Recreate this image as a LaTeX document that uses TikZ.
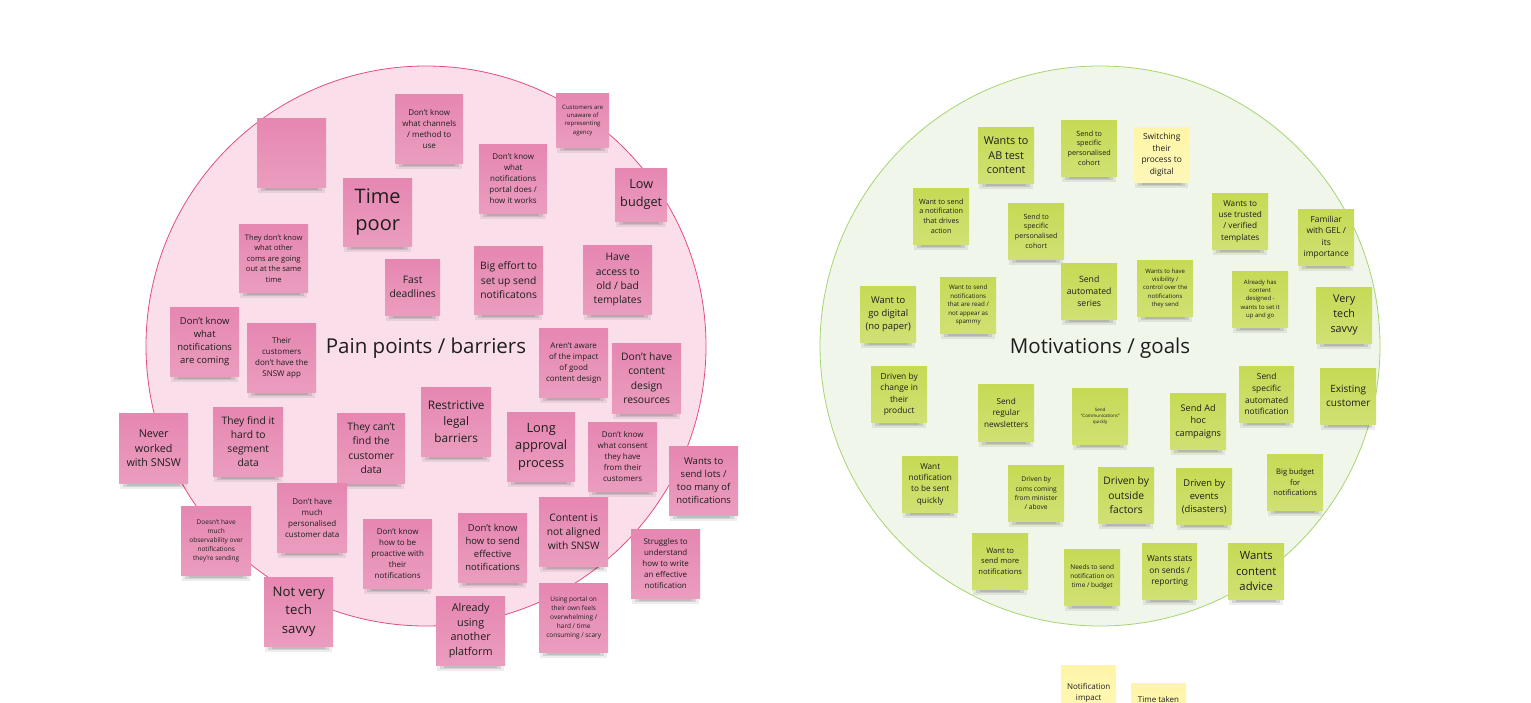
\documentclass[tikz,border=0pt]{standalone}
\usepackage{fontspec}
\setmainfont{Open Sans}
\definecolor{pinknote}{HTML}{E687B1}
\definecolor{greennote}{HTML}{C6DA55}
\definecolor{yellownote}{HTML}{FFF5A8}
\definecolor{pinkfill}{HTML}{FADFEB}
\definecolor{pinkline}{HTML}{E34D84}
\definecolor{greenfill}{HTML}{F0F6E9}
\definecolor{greenline}{HTML}{A6D571}
\definecolor{textc}{HTML}{1E1E1E}
\tikzset{
  stickbox/.style={anchor=north west, inner sep=1pt, align=center, text=textc},
  clusterc/.style={line width=0.8pt},
  titletext/.style={text=textc, font=\fontsize{20.5}{27}\selectfont}
}
\newcommand\stick[8]{%
  \fill[black,opacity=0.07] ({#2+1},{#3+#5-2}) rectangle ({#2+#4-1},{#3+#5+6});
  \fill[black,opacity=0.10] ({#2+4},{#3+#5}) rectangle ({#2+#4-4},{#3+#5+4});
  \fill[black,opacity=0.10] ({#2+8},{#3+#5}) rectangle ({#2+#4-8},{#3+#5+2.5});
  \pgfmathsetmacro\bls{1.38*#7}%
  \node[stickbox, top color=#6, bottom color=#6!82!white, minimum width=#4pt, minimum height=#5pt,
        font=\fontsize{#7}{\bls}\selectfont] (#1) at (#2,#3) {#8};
}
\begin{document}
\begin{tikzpicture}[x=1pt,y=-1pt]
\path[use as bounding box] (0,0) rectangle (1531,702);
\clip (0,0) rectangle (1531,702);
\fill[white] (0,0) rectangle (1531,702);

% clusters
\draw[clusterc, fill=pinkfill, draw=pinkline] (426,346) circle[radius=280pt];
\draw[clusterc, fill=greenfill, draw=greenline] (1100,346) circle[radius=280pt];
\node[titletext] (pain) at (426,348) {Pain points / barriers};
\node[titletext] (motiv) at (1100,348) {Motivations / goals};

% pain points
\stick{p1}{257}{118}{69}{69}{pinknote}{8}{}
\stick{p2}{395}{94}{68}{69}{pinknote}{8}{Don't know\\what channels\\/ method to\\use}
\stick{p3}{556}{93}{53}{54}{pinknote}{6}{Customers are\\unaware of\\representing\\agency}
\stick{p4}{343}{178}{69}{68}{pinknote}{20}{Time\\poor}
\stick{p5}{479}{144}{68}{69}{pinknote}{8}{Don't know\\what\\notifications\\portal does /\\how it works}
\stick{p6}{615}{168}{52}{53}{pinknote}{12.7}{Low\\budget}
\stick{p7}{239}{224}{69}{68}{pinknote}{7.6}{They don't know\\what other\\coms are going\\out at the same\\time}
\stick{p8}{385}{259}{55}{56}{pinknote}{10.3}{Fast\\deadlines}
\stick{p9}{474}{246}{69}{68}{pinknote}{10.3}{Big effort to\\set up send\\notificatons}
\stick{p10}{583}{245}{69}{69}{pinknote}{10.3}{Have\\access to\\old / bad\\templates}
\stick{p11}{170}{307}{69}{69}{pinknote}{9.5}{Don't know\\what\\notifications\\are coming}
\stick{p12}{247}{323}{69}{69}{pinknote}{8}{Their\\customers\\don't have the\\SNSW app}
\stick{p13}{539}{328}{69}{69}{pinknote}{8}{Aren't aware\\of the impact\\of good\\content design}
\stick{p14}{612}{343}{69}{70}{pinknote}{10.3}{Don't have\\content\\design\\resources}
\stick{p15}{119}{413}{69}{70}{pinknote}{10.8}{Never\\worked\\with SNSW}
\stick{p16}{213}{407}{70}{69}{pinknote}{10.3}{They find it\\hard to\\segment\\data}
\stick{p17}{337}{413}{68}{70}{pinknote}{10.3}{They can't\\find the\\customer\\data}
\stick{p18}{421}{387}{70}{69}{pinknote}{11.8}{Restrictive\\legal\\barriers}
\stick{p19}{507}{412}{68}{69}{pinknote}{12.8}{Long\\approval\\process}
\stick{p20}{588}{422}{69}{69}{pinknote}{8}{Don't know\\what consent\\they have\\from their\\customers}
\stick{p21}{669}{446}{69}{69}{pinknote}{9.5}{Wants to\\send lots /\\too many of\\notifications}
\stick{p22}{277}{483}{70}{69}{pinknote}{8}{Don't have\\much\\personalised\\customer data}
\stick{p23}{181}{506}{70}{69}{pinknote}{6.5}{Doesn't have\\much\\observability over\\notifications\\they're sending}
\stick{p24}{363}{519}{69}{69}{pinknote}{8}{Don't know\\how to be\\proactive with\\their\\notifications}
\stick{p25}{458}{513}{69}{69}{pinknote}{9.5}{Don't know\\how to send\\effective\\notifications}
\stick{p26}{539}{497}{69}{69}{pinknote}{10.3}{Content is\\not aligned\\with SNSW}
\stick{p27}{631}{529}{69}{69}{pinknote}{8}{Struggles to\\understand\\how to write\\an effective\\notification}
\stick{p28}{264}{577}{69}{69}{pinknote}{13.2}{Not very\\tech\\savvy}
\stick{p29}{436}{596}{69}{69}{pinknote}{10.8}{Already\\using\\another\\platform}
\stick{p30}{539}{583}{69}{69}{pinknote}{6.5}{Using portal on\\their own feels\\overwhelming /\\hard / time\\consuming / scary}

% motivations
\stick{m1}{978}{127}{56}{56}{greennote}{10.8}{Wants to\\AB test\\content}
\stick{m2}{1061}{120}{56}{56}{greennote}{7.2}{Send to\\specific\\personalised\\cohort}
\stick{m3}{1134}{127}{55}{55}{yellownote}{8.4}{Switching\\their\\process to\\digital}
\stick{m4}{913}{188}{56}{56}{greennote}{7.2}{Want to send\\a notification\\that drives\\action}
\stick{m5}{1008}{203}{56}{56}{greennote}{7.1}{Send to\\specific\\personalised\\cohort}
\stick{m6}{1212}{193}{56}{56}{greennote}{8.2}{Wants to\\use trusted\\/ verified\\templates}
\stick{m7}{1298}{209}{56}{56}{greennote}{8.4}{Familiar\\with GEL /\\its\\importance}
\stick{m8}{1061}{263}{56}{56}{greennote}{8.7}{Send\\automated\\series}
\stick{m9}{1137}{260}{56}{56}{greennote}{6}{Wants to have\\visibility /\\control over the\\notifications\\they send}
\stick{m10}{1232}{271}{56}{56}{greennote}{6}{Already has\\content\\designed -\\wants to set it\\up and go}
\stick{m11}{860}{286}{56}{56}{greennote}{9.4}{Want to\\go digital\\(no paper)}
\stick{m12}{940}{277}{56}{56}{greennote}{6.2}{Want to send\\notifications\\that are read /\\not appear as\\spammy}
\stick{m13}{1316}{287}{56}{56}{greennote}{10.8}{Very\\tech\\savvy}
\stick{m14}{871}{366}{56}{56}{greennote}{8.4}{Driven by\\change in\\their\\product}
\stick{m15}{978}{384}{56}{57}{greennote}{8.2}{Send\\regular\\newsletters}
\stick{m16}{1072}{388}{56}{56}{greennote}{4.5}{Send\\“Communications”\\quickly}
\stick{m17}{1170}{393}{56}{56}{greennote}{9.1}{Send Ad\\hoc\\campaigns}
\stick{m18}{1239}{366}{55}{56}{greennote}{8.4}{Send\\specific\\automated\\notification}
\stick{m19}{1320}{368}{56}{56}{greennote}{10}{Existing\\customer}
\stick{m20}{902}{456}{56}{56}{greennote}{8.2}{Want\\notification\\to be sent\\quickly}
\stick{m21}{1008}{465}{56}{56}{greennote}{6.7}{Driven by\\coms coming\\from minister\\/ above}
\stick{m22}{1098}{467}{56}{56}{greennote}{10.3}{Driven by\\outside\\factors}
\stick{m23}{1176}{468}{56}{56}{greennote}{9.4}{Driven by\\events\\(disasters)}
\stick{m24}{1267}{454}{56}{56}{greennote}{7.6}{Big budget\\for\\notifications}
\stick{m25}{972}{533}{56}{56}{greennote}{7.6}{Want to\\send more\\notifications}
\stick{m26}{1064}{549}{56}{56}{greennote}{6.5}{Needs to send\\notification on\\time / budget}
\stick{m27}{1142}{543}{55}{56}{greennote}{8.4}{Wants stats\\on sends /\\reporting}
\stick{m28}{1228}{543}{56}{56}{greennote}{11.3}{Wants\\content\\advice}

% loose notes below
\stick{y1}{1061}{665}{55}{55}{yellownote}{8}{Notification\\impact}
\stick{y2}{1131}{683}{55}{55}{yellownote}{8}{}
\node[text=textc, font=\fontsize{8}{11}\selectfont] (y2t) at (1158.5,699) {Time taken};
\end{tikzpicture}
\end{document}
